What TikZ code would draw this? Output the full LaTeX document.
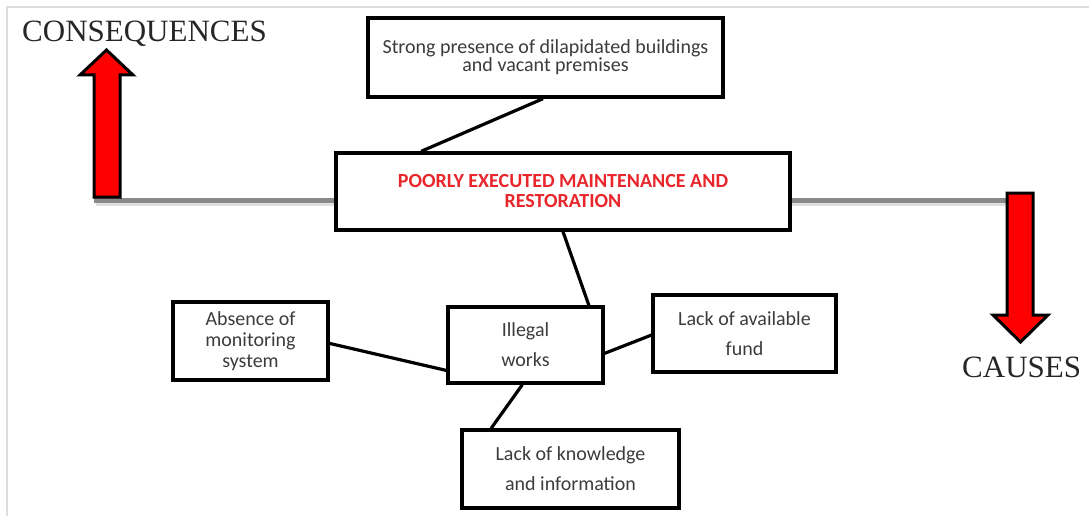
\documentclass[tikz,border=0pt]{standalone}
\usepackage{fontspec}
\setmainfont{Liberation Serif}
\newfontfamily\boxfont{Carlito}
\usetikzlibrary{calc}
\definecolor{boxtext}{HTML}{3C3C3C}
\definecolor{headred}{HTML}{E8262B}
\definecolor{axisgray}{HTML}{8A8A8A}
\definecolor{framegray}{HTML}{DDDDDD}
\tikzset{
  box/.style={draw=black, line width=3.4pt, fill=white, inner sep=0pt,
    align=center, text=boxtext},
  link/.style={draw=black, line width=3.2pt},
  axis/.style={draw=axisgray, line width=5pt},
  axisshadow/.style={draw=gray!25, line width=4pt},
  bigarrow/.style={draw=black, fill=red, line width=3pt, line join=miter},
  sidelabel/.style={font=\fontsize{31}{34}\selectfont, text=black!85, inner sep=0pt}
}
\begin{document}
\begin{tikzpicture}[x=1pt,y=-1pt]
\useasboundingbox (0,0) rectangle (1089,516);
% frame edges
\draw[framegray, line width=2pt] (7,516) -- (7,7) -- (1089,7);

% axis ends
\coordinate (consq) at (94,200);
\coordinate (cause) at (1020,200);

% axis line shadows
\draw[axisshadow] (96,204) -- (336,204);
\draw[axisshadow] (790,204) -- (1020,204);

% central problem
\node[box, minimum width=454pt, minimum height=77pt,
      font=\boxfont\bfseries\fontsize{20}{20}\selectfont, text=headred]
  (main) at (563,191.5) {POORLY EXECUTED MAINTENANCE AND\\RESTORATION};

% consequence
\node[box, minimum width=355pt, minimum height=79pt,
      font=\boxfont\fontsize{20}{18}\selectfont]
  (top) at (545.5,57.5) {Strong presence of dilapidated buildings\\and vacant premises};

% causes
\node[box, minimum width=155pt, minimum height=76pt,
      font=\boxfont\fontsize{20}{30}\selectfont]
  (illegal) at (525.5,345) {Illegal\\works};
\node[box, minimum width=155pt, minimum height=78pt,
      font=\boxfont\fontsize{20}{21}\selectfont]
  (absence) at (250.5,341) {Absence of\\monitoring\\system};
\node[box, minimum width=183pt, minimum height=77pt,
      font=\boxfont\fontsize{20}{30}\selectfont]
  (fund) at (744.5,333.5) {Lack of available\\fund};
\node[box, minimum width=217pt, minimum height=78pt,
      font=\boxfont\fontsize{20}{30}\selectfont]
  (know) at (570.5,469) {Lack of knowledge\\and information};

% horizontal axis
\draw[axis] (consq) -- (consq -| main.west);
\draw[axis] (cause -| main.east) -- (cause);

% connectors
\draw[link] ($(top.south west)!0.493!(top.south east)$) -- ($(main.north west)!0.19!(main.north east)$);
\draw[link] ($(main.south west)!0.50!(main.south east)$) -- ($(illegal.north west)!0.90!(illegal.north east)$);
\draw[link] ($(absence.north east)!0.53!(absence.south east)$) -- ($(illegal.north west)!0.82!(illegal.south west)$);
\draw[link] ($(illegal.north east)!0.605!(illegal.south east)$) -- ($(fund.north west)!0.52!(fund.south west)$);
\draw[link] ($(illegal.south west)!0.48!(illegal.south east)$) -- ($(know.north west)!0.14!(know.north east)$);

% direction arrows
\draw[bigarrow] (94,197) -- (94,75) -- (80,75) -- (106.5,50) -- (133,75) -- (120,75) -- (120,197) -- cycle;
\draw[bigarrow] (1007,193) -- (1007,315) -- (993,315) -- (1020.5,342) -- (1048,315) -- (1033,315) -- (1033,193) -- cycle;

% axis labels
\node[sidelabel, anchor=base west] (conslabel) at (22,42) {CONSEQUENCES};
\node[sidelabel, anchor=base west] (causelabel) at (962,377) {CAUSES};
\end{tikzpicture}
\end{document}
